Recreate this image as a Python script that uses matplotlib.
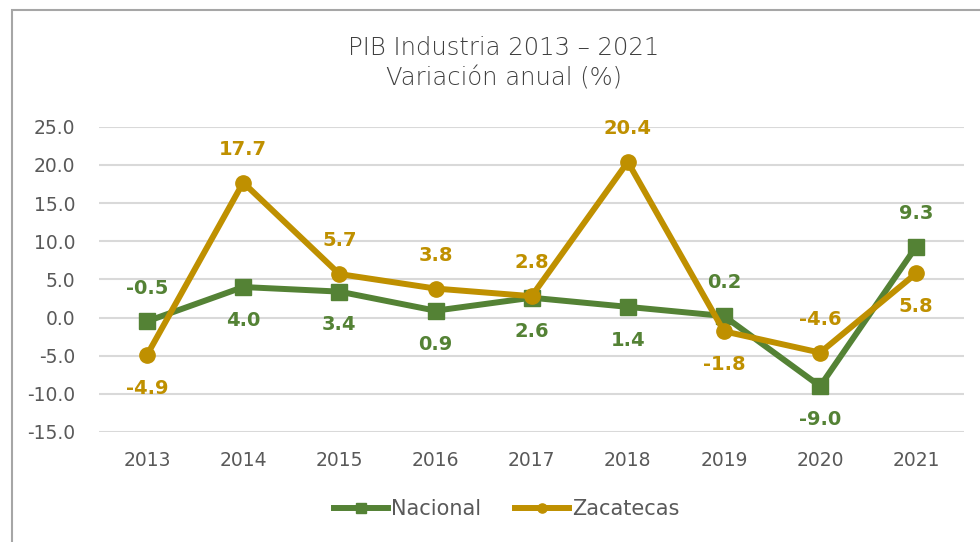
import matplotlib.pyplot as plt
from matplotlib.patches import Rectangle

years = ["2013", "2014", "2015", "2016", "2017", "2018", "2019", "2020", "2021"]
nacional = [-0.5, 4.0, 3.4, 0.9, 2.6, 1.4, 0.2, -9.0, 9.3]
zacatecas = [-4.9, 17.7, 5.7, 3.8, 2.8, 20.4, -1.8, -4.6, 5.8]
# label above (+1) or below (-1) the point
nac_pos = [1, -1, -1, -1, -1, -1, 1, -1, 1]
zac_pos = [-1, 1, 1, 1, 1, 1, -1, 1, -1]

green = "#548235"
gold = "#BF9000"
gray = "#595959"

plt.rcParams['font.family'] = ['DejaVu Sans']

fig = plt.figure(figsize=(9.8, 5.42), dpi=100)
ax = fig.add_axes([0.101, 0.203, 0.883, 0.563])

x = list(range(len(years)))
ax.plot(x, nacional, color=green, lw=4.3, marker="s", ms=11, label="Nacional", zorder=3)
ax.plot(x, zacatecas, color=gold, lw=4.3, marker="o", ms=11, label="Zacatecas", zorder=4)

for i in x:
    ax.annotate(f"{nacional[i]:.1f}", (i, nacional[i]), xytext=(0, 24 * nac_pos[i]),
                textcoords="offset points", ha="center", va="center",
                color=green, fontsize=14, fontweight="bold")
    ax.annotate(f"{zacatecas[i]:.1f}", (i, zacatecas[i]), xytext=(0, 24 * zac_pos[i]),
                textcoords="offset points", ha="center", va="center",
                color=gold, fontsize=14, fontweight="bold")

ax.set_xlim(-0.5, len(years) - 0.5)
ax.set_ylim(-15, 25)
ax.set_yticks(range(-15, 26, 5))
ax.set_yticklabels([f"{v:.1f}" for v in range(-15, 26, 5)])
ax.set_xticks(x)
ax.set_xticklabels(years)
ax.tick_params(colors=gray, labelsize=13.5, length=0)
ax.tick_params(axis="x", pad=14)
ax.tick_params(axis="y", pad=17)
ax.grid(axis="y", color="#D9D9D9", lw=1.5)
ax.set_axisbelow(True)
for s in ax.spines.values():
    s.set_visible(False)

fig.text(0.514, 0.912, "PIB Industria 2013 – 2021", ha="center", va="center",
         fontsize=17.5, color="#404040", fontweight="light")
fig.text(0.514, 0.855, "Variación anual (%)", ha="center", va="center",
         fontsize=17.5, color="#404040", fontweight="light")

fig.legend(loc="center", bbox_to_anchor=(0.517, 0.061), ncol=2, frameon=False,
           fontsize=15, labelcolor=gray, handlelength=2.6, handletextpad=0.15,
           columnspacing=1.6, markerscale=0.6)

fig.patches.append(Rectangle((0.0122, -0.2), 1.5, 1.1815, transform=fig.transFigure,
                             fill=False, edgecolor="#A6A6A6", lw=1.5))

fig.savefig("out.png", dpi=100)
